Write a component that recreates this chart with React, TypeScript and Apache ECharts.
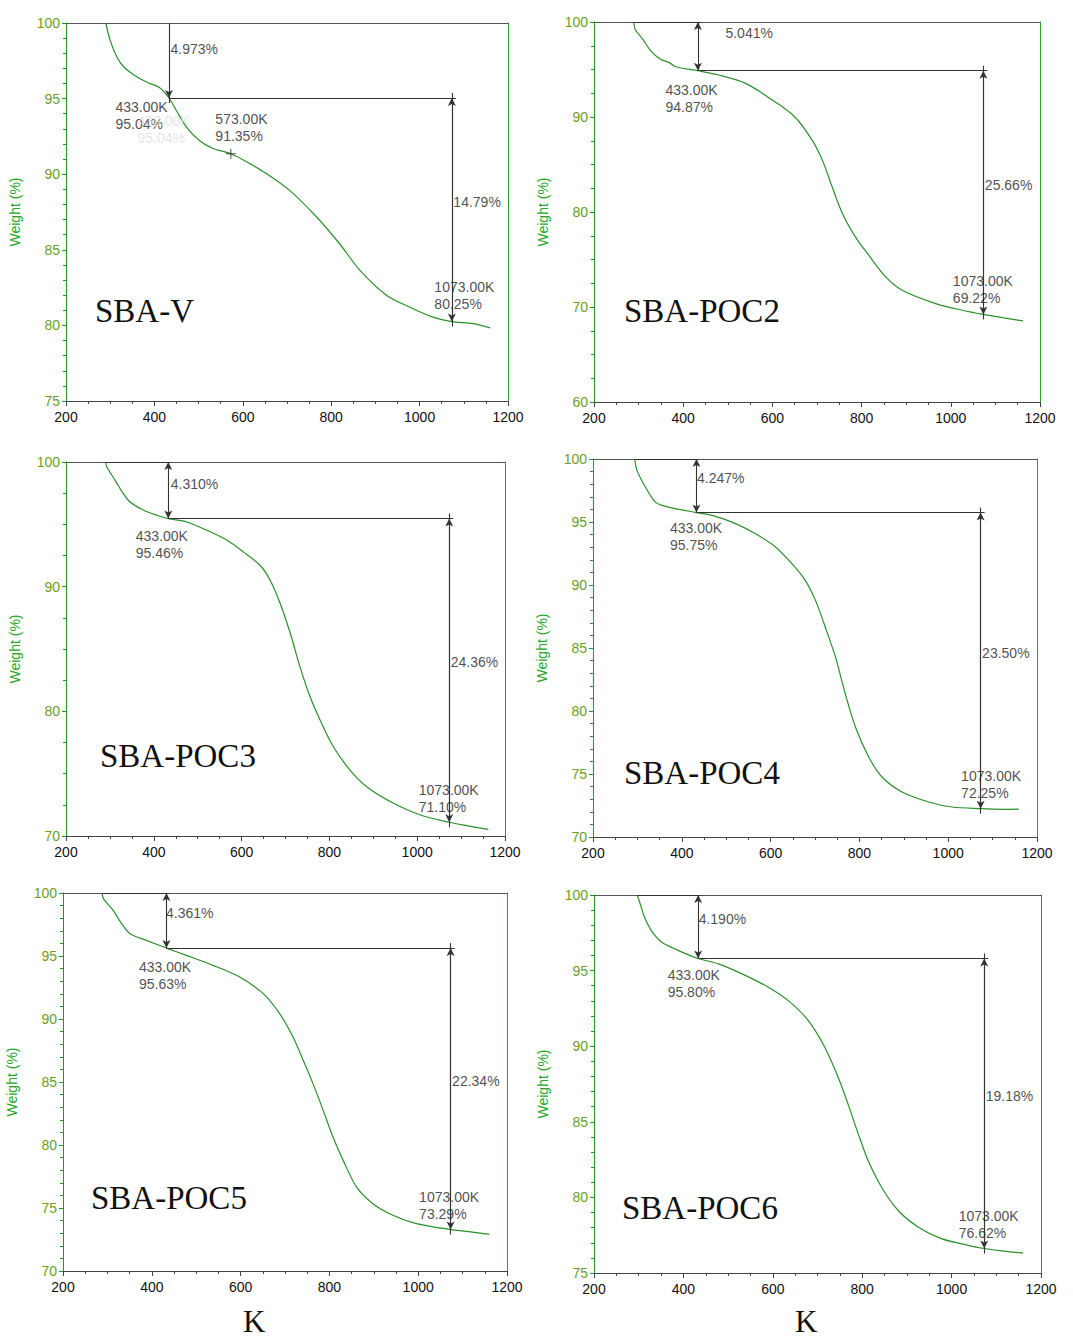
import React, { useEffect, useRef } from "react";
import * as echarts from "echarts";

// ---------- DATA ----------
const samples = ["SBA-V", "SBA-POC2", "SBA-POC3", "SBA-POC4", "SBA-POC5", "SBA-POC6"];

const sbaV_T = [290, 300, 315, 331, 352, 382, 412, 433, 450, 473, 503, 533, 573, 616, 654, 706, 767, 819, 865, 925, 978, 1030, 1073, 1121, 1160];
const sbaV_W = [100, 98.85, 97.75, 97.09, 96.6, 96.1, 95.72, 95.04, 94.2, 93.1, 92.2, 91.7, 91.35, 90.7, 90.03, 88.93, 87.17, 85.4, 83.64, 82.0, 81.2, 80.55, 80.25, 80.12, 79.83];

const poc2_T = [289, 293, 308, 326, 349, 368, 383, 433, 480, 540, 600, 650, 689, 712, 734, 757, 786, 816, 854, 891, 966, 1026, 1073, 1116, 1162];
const poc2_W = [100, 99.16, 98.28, 97.05, 96.07, 95.75, 95.29, 94.87, 94.42, 93.54, 91.78, 90.03, 87.57, 85.46, 82.65, 79.84, 77.38, 75.45, 73.17, 71.76, 70.36, 69.66, 69.22, 68.88, 68.53];

const poc3_T = [290, 293, 312, 328, 346, 377, 407, 433, 475, 521, 567, 604, 642, 665, 688, 711, 733, 756, 779, 809, 847, 885, 946, 1007, 1073, 1113, 1162];
const poc3_W = [100, 99.6, 98.53, 97.6, 96.79, 96.13, 95.73, 95.46, 95.19, 94.52, 93.72, 92.79, 91.72, 90.52, 88.65, 86.24, 83.57, 81.17, 79.29, 77.16, 75.29, 73.95, 72.62, 71.68, 71.1, 70.83, 70.53];

const poc4_T = [294, 299, 318, 340, 355, 393, 433, 476, 521, 566, 611, 648, 678, 701, 723, 746, 768, 791, 821, 851, 896, 956, 1009, 1073, 1121, 1159];
const poc4_W = [100, 99.1, 97.78, 96.59, 96.32, 96.0, 95.75, 95.45, 94.87, 94.07, 93.02, 91.69, 90.37, 88.78, 86.67, 84.29, 81.38, 78.73, 76.35, 74.76, 73.57, 72.78, 72.38, 72.25, 72.2, 72.22];

const poc5_T = [288, 291, 313, 332, 351, 388, 433, 478, 538, 598, 651, 688, 718, 741, 763, 786, 808, 831, 861, 898, 943, 996, 1073, 1109, 1160];
const poc5_W = [100, 99.55, 98.62, 97.57, 96.77, 96.24, 95.63, 95.05, 94.26, 93.33, 92.01, 90.42, 88.57, 86.72, 84.87, 82.75, 80.63, 78.78, 76.67, 75.34, 74.42, 73.76, 73.29, 73.15, 72.91];

const poc6_T = [297, 302, 313, 328, 351, 388, 433, 477, 530, 589, 634, 679, 716, 746, 768, 791, 813, 843, 880, 925, 977, 1037, 1073, 1111, 1160];
const poc6_W = [100, 99.54, 98.54, 97.66, 96.89, 96.34, 95.8, 95.46, 94.8, 93.92, 93.03, 91.71, 89.95, 87.96, 86.2, 84.22, 82.45, 80.69, 79.15, 78.04, 77.27, 76.83, 76.62, 76.46, 76.32];

const curveT = [sbaV_T, poc2_T, poc3_T, poc4_T, poc5_T, poc6_T];
const curveW = [sbaV_W, poc2_W, poc3_W, poc4_W, poc5_W, poc6_W];

const tA = 433;
const tB = 1073;
const w433 = [95.04, 94.87, 95.46, 95.75, 95.63, 95.8];
const w1073 = [80.25, 69.22, 71.1, 72.25, 73.29, 76.62];
const loss1 = ["4.973%", "5.041%", "4.310%", "4.247%", "4.361%", "4.190%"];
const loss2 = ["14.79%", "25.66%", "24.36%", "23.50%", "22.34%", "19.18%"];
const startT = [290, 289, 290, 294, 288, 297];
const extraT = 573;
const extraW = 91.35;

const yMin = [75, 60, 70, 70, 70, 75];
const yInterval = [5, 10, 10, 5, 5, 5];
const yMinorSplit = [5, 4, 4, 5, 5, 5];
const xMin = 200;
const xMax = 1200;
const xInterval = 200;

// ---------- LAYOUT (pixels) ----------
const grids = [
  { left: 66, top: 23, width: 442, height: 378 },
  { left: 594, top: 22, width: 446, height: 380 },
  { left: 66, top: 462, width: 439, height: 374 },
  { left: 593, top: 459, width: 444, height: 378 },
  { left: 63, top: 893, width: 444, height: 378 },
  { left: 594, top: 895, width: 447, height: 378 },
];
const nameBox = [
  { x: 95, y: 311 },
  { x: 624, y: 311 },
  { x: 100, y: 756 },
  { x: 624, y: 773 },
  { x: 91, y: 1198 },
  { x: 622, y: 1208 },
];
const lblA = [[-53, 1.5], [-32, 11.5], [-32, 9.5], [-26, 7.5], [-27, 10.5], [-30, 8.5]];
const lblB = [[-17, -42.5], [-30, -41.5], [-30, -40.5], [-19, -40.5], [-31, -40.5], [-25, -40.5]];
const lblLoss1 = [[2, 26], [28, 11], [3, 22], [1, 19], [0, 20], [1, 24]];

const FONT = "'Liberation Sans', Arial, sans-serif";
const SERIF = "'Liberation Serif', 'Times New Roman', serif";
const LINE = "#333";
const TXT = "#222";

function buildOption() {
  const xAxis: any[] = [];
  const yAxis: any[] = [];
  const series: any[] = [];
  const graphic: any[] = [];

  grids.forEach((g, i) => {
    xAxis.push({
      gridIndex: i, type: "value", position: "bottom", min: xMin, max: xMax, interval: xInterval,
      axisLine: { onZero: false, lineStyle: { color: "#444", width: 1 } },
      axisTick: { show: true, length: 5, lineStyle: { color: "#444" } },
      minorTick: { show: true, splitNumber: 4, length: 3, lineStyle: { color: "#444" } },
      splitLine: { show: false },
      axisLabel: { color: "#111", fontSize: 14, fontFamily: FONT, margin: 9, formatter: (v: number) => String(v) },
    });
    xAxis.push({
      gridIndex: i, type: "value", position: "top", min: xMin, max: xMax,
      axisLine: { onZero: false, lineStyle: { color: "#555", width: 1 } },
      axisTick: { show: false }, axisLabel: { show: false }, splitLine: { show: false },
    });
    yAxis.push({
      gridIndex: i, type: "value", position: "left", min: yMin[i], max: 100, interval: yInterval[i],
      axisLine: { show: true, onZero: false, lineStyle: { color: "#1f9a1f", width: 1 } },
      axisTick: { show: true, length: 4, lineStyle: { color: "#1f9a1f" } },
      minorTick: { show: true, splitNumber: yMinorSplit[i], length: 3, lineStyle: { color: "#1f9a1f" } },
      splitLine: { show: false },
      axisLabel: { color: "#6a9e26", fontSize: 14, fontFamily: FONT, margin: 6 },
      name: "Weight (%)", nameLocation: "middle", nameGap: 44,
      nameTextStyle: { color: "#2aa52a", fontSize: 14, fontFamily: FONT },
    });
    yAxis.push({
      gridIndex: i, type: "value", position: "right", min: yMin[i], max: 100,
      axisLine: { show: true, onZero: false, lineStyle: { color: "#2aa52a", width: 1 } },
      axisTick: { show: false }, axisLabel: { show: false }, splitLine: { show: false },
    });

    const xi = 2 * i;
    const yi = 2 * i;
    const T = curveT[i];
    const W = curveW[i];
    series.push({
      type: "line", xAxisIndex: xi, yAxisIndex: yi, showSymbol: false, smooth: 0.3,
      data: T.map((t, k) => [t, W[k]]),
      lineStyle: { color: "#2b8f2b", width: 1.2 }, z: 3, silent: true,
    });

    const e = ((100 - yMin[i]) / g.height) * 5; // 5px extension in value units
    const wa = w433[i];
    const wb = w1073[i];
    const ml: any[] = [
      [{ coord: [tA, wa] }, { coord: [1082, wa] }],
      [{ coord: [tB, wa + e] }, { coord: [tB, wb - e] }],
      [{ coord: [tB, wa], symbol: "arrow" }, { coord: [tB, wb], symbol: "arrow" }],
    ];
    if (i === 0) {
      ml.push([{ coord: [tA, 100] }, { coord: [tA, wa], symbol: "arrow" }]);
      ml.push([{ coord: [tA, wa] }, { coord: [tA, wa - e] }]);
    } else {
      ml.push([{ coord: [tA, 100 + e] }, { coord: [tA, wa - e] }]);
      ml.push([{ coord: [tA, 100], symbol: "arrow" }, { coord: [tA, wa], symbol: "arrow" }]);
      ml.push([{ coord: [startT[i], 100] }, { coord: [440, 100] }]);
      ml.push([{ coord: [startT[i], 100 + e * 0.8] }, { coord: [startT[i], 100 - e * 0.8] }]);
    }
    series.push({
      type: "line", xAxisIndex: xi, yAxisIndex: yi, data: [], clip: false, silent: true, z: 4,
      markLine: {
        silent: true, animation: false, symbol: "none", symbolSize: [6, 8], precision: 4,
        label: { show: false },
        lineStyle: { color: LINE, width: 1.1, type: "solid" },
        emphasis: { disabled: true },
        data: ml,
      },
    });

    const lab = (formatter: string, pos: number[], color = TXT) => ({
      show: true, formatter, position: pos, align: "left", verticalAlign: "top",
      color, fontSize: 14, lineHeight: 17, fontFamily: FONT,
    });
    const mid = (wa + wb) / 2;
    const pts: any[] = [
      { value: [tA, wa], label: lab(`${tA}.00K\n${wa.toFixed(2)}%`, lblA[i]) },
      { value: [tB, wb], label: lab(`${tB}.00K\n${wb.toFixed(2)}%`, lblB[i]) },
      { value: [tA, 100], label: lab(loss1[i], [lblLoss1[i][0], lblLoss1[i][1] - 8.5]) },
      { value: [tB, mid], label: lab(loss2[i], [2, -16]) },
    ];
    if (i === 0) {
      pts.push({ value: [tA, wa], label: lab(`${tA}.00K\n${wa.toFixed(2)}%`, [-31, 15.5], "#dcdce6") });
      pts.push({ value: [extraT, extraW], label: lab(`${extraT}.00K\n${extraW.toFixed(2)}%`, [-15, -42.5]) });
    }
    series.push({
      type: "scatter", xAxisIndex: xi, yAxisIndex: yi, symbolSize: 1, silent: true, z: 5, clip: false,
      itemStyle: { color: "rgba(0,0,0,0)" }, data: pts,
    });
    if (i === 0) {
      series.push({
        type: "scatter", xAxisIndex: xi, yAxisIndex: yi, silent: true, z: 6,
        symbol: "path://M0,5L10,5M5,0L5,10", symbolSize: 10,
        itemStyle: { color: "none", borderColor: "#222", borderWidth: 1 },
        data: [[extraT, extraW]],
      });
    }

    graphic.push({
      type: "text", left: nameBox[i].x, top: nameBox[i].y - 17, silent: true,
      style: { text: samples[i], font: `33px ${SERIF}`, fill: "#111" },
    });
  });

  graphic.push({ type: "text", left: 243, top: 1306, silent: true, style: { text: "K", font: `31px ${SERIF}`, fill: "#111" } });
  graphic.push({ type: "text", left: 795, top: 1306, silent: true, style: { text: "K", font: `31px ${SERIF}`, fill: "#111" } });

  return {
    animation: false,
    backgroundColor: "#ffffff",
    textStyle: { fontFamily: FONT },
    grid: grids.map((g) => ({ ...g, containLabel: false })),
    xAxis, yAxis, series, graphic,
  };
}

export default function App() {
  const ref = useRef<HTMLDivElement>(null);
  useEffect(() => {
    document.body.style.margin = "0";
    const chart = echarts.init(ref.current!, null, { renderer: "svg" });
    chart.setOption(buildOption() as any);
    return () => chart.dispose();
  }, []);
  return <div ref={ref} style={{ width: 1073, height: 1338 }} />;
}
